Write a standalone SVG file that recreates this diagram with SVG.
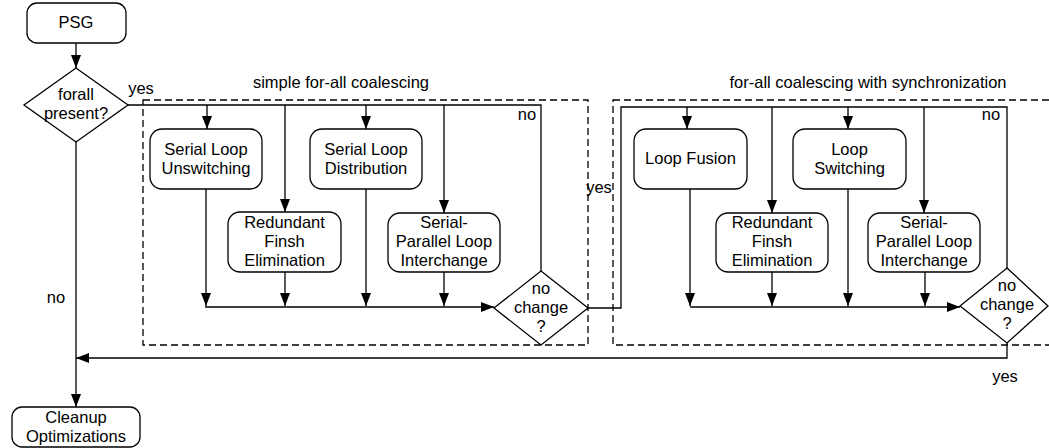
<svg xmlns="http://www.w3.org/2000/svg" width="1049" height="448" viewBox="0 0 1049 448">
<style>
.n{fill:#fff;stroke:#000;stroke-width:1.3}
.t{font-family:"Liberation Sans",Arial,sans-serif;font-size:16.5px;fill:#000;text-anchor:middle}
.c{fill:none;stroke:#000;stroke-width:1.3}
.a{marker-end:url(#ah)}
.d{fill:none;stroke:#000;stroke-width:1.3;stroke-dasharray:7,4}
</style>
<defs>
<marker id="ah" markerUnits="userSpaceOnUse" markerWidth="13" markerHeight="12" viewBox="0 0 13 12" refX="13" refY="6" orient="auto">
<path d="M0,1 L13,6 L0,11 Z" fill="#000"/>
</marker>
</defs>
<rect width="1049" height="448" fill="#fff"/>
<g id="groups">
<rect class="d" x="143" y="100" width="445" height="245"/>
<rect class="d" x="613" y="100" width="460" height="245"/>
<text class="t" x="341" y="88">simple for-all coalescing</text>
<text class="t" x="868" y="88">for-all coalescing with synchronization</text>
</g>
<g id="connectors">
<path class="c a" d="M76,43 V68"/>
<path class="c" d="M128,105 H541 V271"/>
<path class="c a" d="M207,105 V129"/>
<path class="c a" d="M285,105 V212"/>
<path class="c a" d="M366,105 V129"/>
<path class="c a" d="M444,105 V213"/>
<path class="c a" d="M206,189 V306"/>
<path class="c a" d="M285,272 V306"/>
<path class="c a" d="M366,189 V306"/>
<path class="c a" d="M444,272 V306"/>
<path class="c a" d="M205,307 H494"/>
<path class="c" d="M588,308 H621 V107 H1007 V268"/>
<path class="c a" d="M687,107 V129"/>
<path class="c a" d="M772,107 V213"/>
<path class="c a" d="M848,107 V129"/>
<path class="c a" d="M924,107 V213"/>
<path class="c a" d="M690,189 V306"/>
<path class="c a" d="M772,272 V306"/>
<path class="c a" d="M848,189 V306"/>
<path class="c a" d="M925,272 V306"/>
<path class="c a" d="M690,307 H960"/>
<path class="c a" d="M1007,343 V358 H76"/>
<path class="c a" d="M76,142 V407"/>
<text class="t" x="141" y="94">yes</text>
<text class="t" x="56" y="303">no</text>
<text class="t" x="527" y="120">no</text>
<text class="t" x="599" y="193">yes</text>
<text class="t" x="991" y="120">no</text>
<text class="t" x="1005" y="382">yes</text>
</g>
<g id="psg">
<rect class="n" x="27" y="3" width="99" height="40" rx="10"/>
<text class="t" x="76" y="28">PSG</text>
</g>
<g id="forall">
<polygon class="n" points="76,68 128,105 76,142 24,105"/>
<text class="t" x="76" y="100">forall</text>
<text class="t" x="76" y="118.5">present?</text>
</g>
<g id="unswitching">
<rect class="n" x="150" y="129" width="112" height="60" rx="12"/>
<text class="t" x="206" y="155">Serial Loop</text>
<text class="t" x="206" y="174">Unswitching</text>
</g>
<g id="distribution">
<rect class="n" x="310" y="129" width="112" height="60" rx="12"/>
<text class="t" x="366" y="155">Serial Loop</text>
<text class="t" x="366" y="174">Distribution</text>
</g>
<g id="redundant1">
<rect class="n" x="228" y="212" width="113" height="60" rx="12"/>
<text class="t" x="284.5" y="228">Redundant</text>
<text class="t" x="284.5" y="247">Finsh</text>
<text class="t" x="284.5" y="266">Elimination</text>
</g>
<g id="interchange1">
<rect class="n" x="388" y="213" width="112" height="59" rx="12"/>
<text class="t" x="444" y="228">Serial-</text>
<text class="t" x="444" y="247">Parallel Loop</text>
<text class="t" x="444" y="266">Interchange</text>
</g>
<g id="nochange1">
<polygon class="n" points="541,271 588,308 541,345 494,308"/>
<text class="t" x="541" y="294">no</text>
<text class="t" x="541" y="313">change</text>
<text class="t" x="541" y="332">?</text>
</g>
<g id="fusion">
<rect class="n" x="634" y="129" width="113" height="60" rx="12"/>
<text class="t" x="690.5" y="164">Loop Fusion</text>
</g>
<g id="switching">
<rect class="n" x="793" y="129" width="113" height="60" rx="12"/>
<text class="t" x="849.5" y="155">Loop</text>
<text class="t" x="849.5" y="174">Switching</text>
</g>
<g id="redundant2">
<rect class="n" x="716" y="213" width="112" height="59" rx="12"/>
<text class="t" x="772" y="228">Redundant</text>
<text class="t" x="772" y="247">Finsh</text>
<text class="t" x="772" y="266">Elimination</text>
</g>
<g id="interchange2">
<rect class="n" x="868" y="213" width="112" height="59" rx="12"/>
<text class="t" x="924" y="228">Serial-</text>
<text class="t" x="924" y="247">Parallel Loop</text>
<text class="t" x="924" y="266">Interchange</text>
</g>
<g id="nochange2">
<polygon class="n" points="1007,268 1048,306 1007,343 960,306"/>
<text class="t" x="1007" y="291">no</text>
<text class="t" x="1007" y="310">change</text>
<text class="t" x="1007" y="329">?</text>
</g>
<g id="cleanup">
<rect class="n" x="12" y="407" width="128" height="40" rx="10"/>
<text class="t" x="76" y="423">Cleanup</text>
<text class="t" x="76" y="442">Optimizations</text>
</g>
</svg>
